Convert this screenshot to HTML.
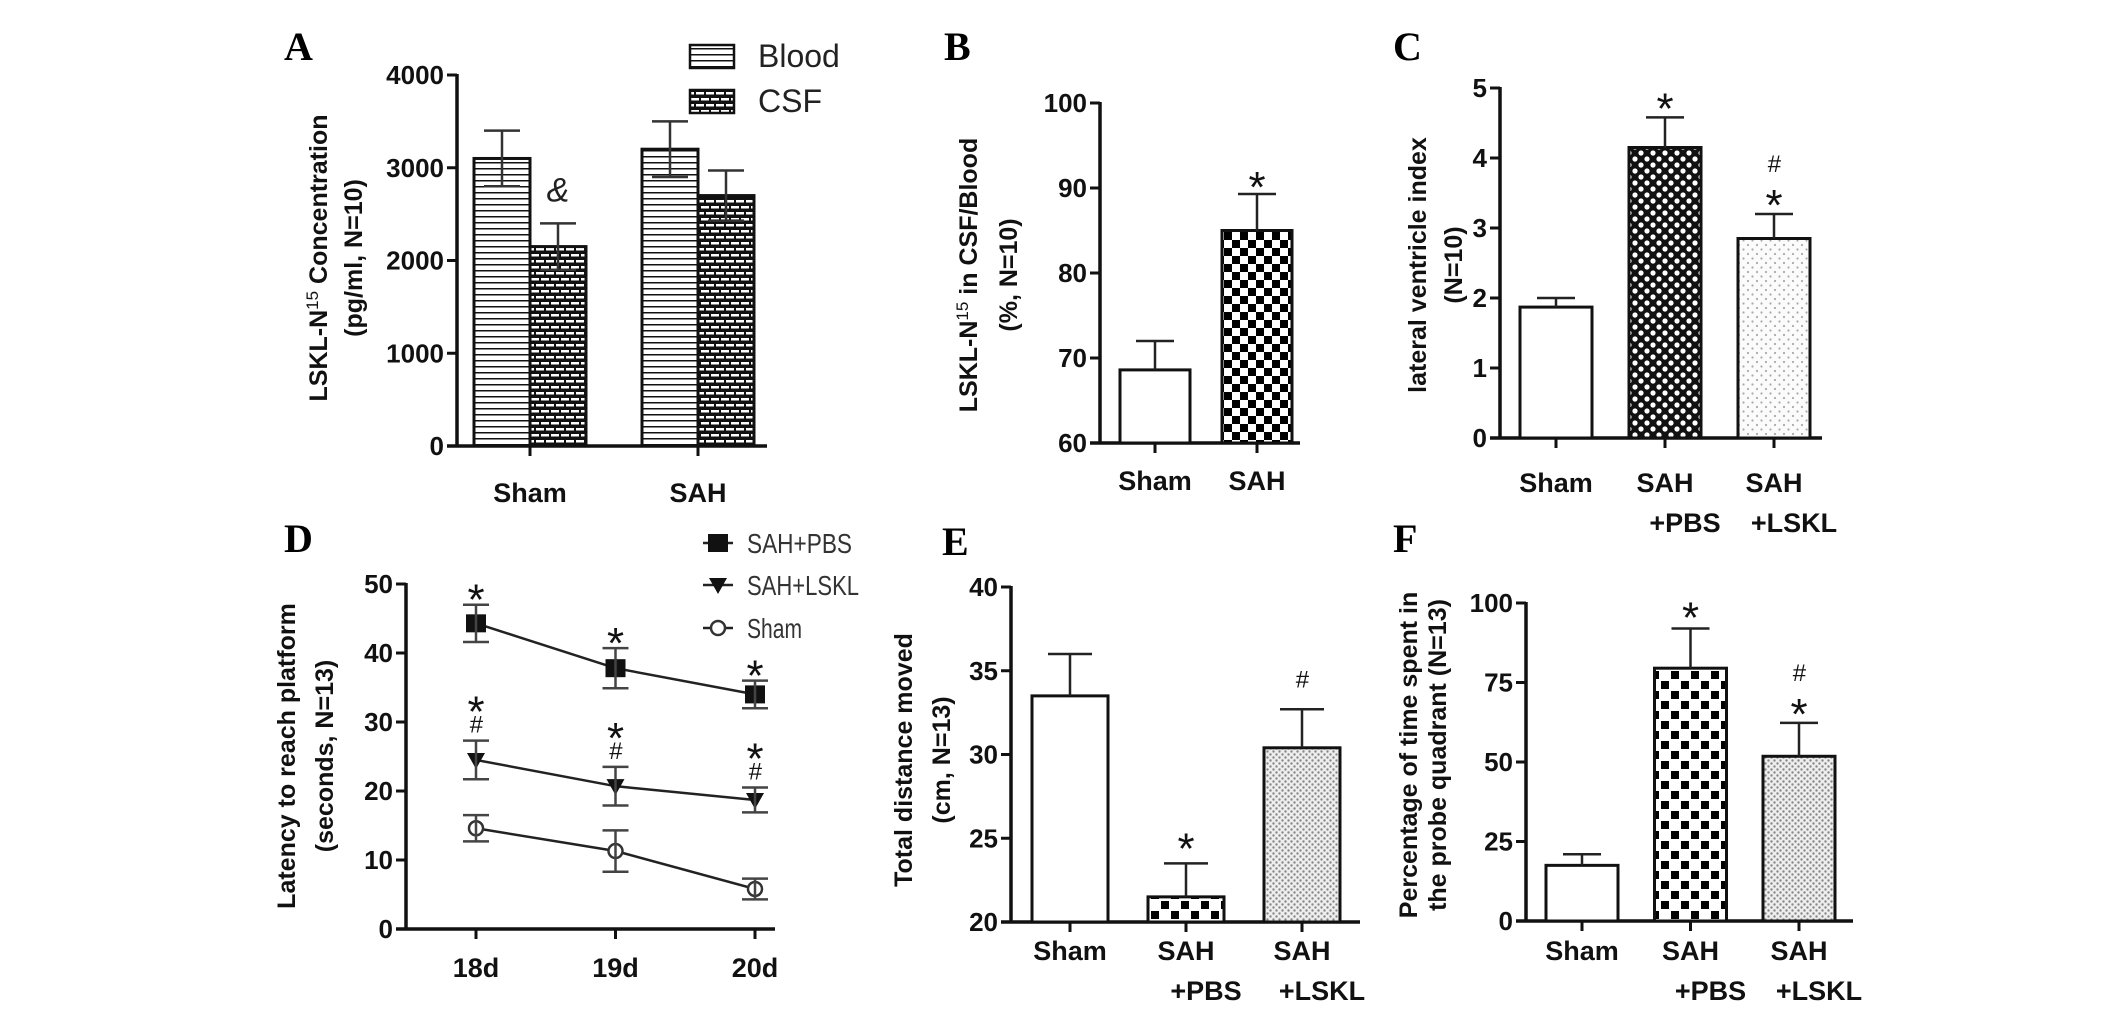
<!DOCTYPE html>
<html><head><meta charset="utf-8"><title>LSKL figure</title>
<style>
html,body{margin:0;padding:0;background:#fff;}
svg{display:block;}
text{font-family:"Liberation Sans",Arial,sans-serif;}
.tick{font-weight:bold;font-size:26px;fill:#111;}
.xl{font-weight:bold;font-size:27px;fill:#111;}
.yl{font-weight:bold;font-size:25px;fill:#111;}
.let{font-family:"Liberation Serif",serif;font-weight:bold;font-size:40px;fill:#000;}
.mark{font-size:44px;fill:#111;}
.hash{font-size:24px;fill:#111;font-style:italic;}
.leg{font-size:28px;fill:#333;}
</style></head>
<body>
<svg id="fig" width="2126" height="1021" viewBox="0 0 2126 1021" xmlns="http://www.w3.org/2000/svg">
<defs>
<pattern id="pHl" width="10" height="6" patternUnits="userSpaceOnUse"><rect width="10" height="6" fill="#fff"/><line x1="0" y1="0.75" x2="10" y2="0.75" stroke="#111" stroke-width="1.5"/></pattern>
<pattern id="pBrick" width="20" height="12" patternUnits="userSpaceOnUse"><rect width="20" height="12" fill="#111"/><rect x="1" y="2" width="8" height="2.5" fill="#fff"/><rect x="11" y="2" width="8" height="2.5" fill="#fff"/><rect x="-4" y="8" width="8" height="2.5" fill="#fff"/><rect x="6" y="8" width="8" height="2.5" fill="#fff"/><rect x="16" y="8" width="8" height="2.5" fill="#fff"/></pattern>
<pattern id="pCheck8" width="16" height="16" patternUnits="userSpaceOnUse"><rect width="16" height="16" fill="#fff"/><rect width="8" height="8" fill="#000"/><rect x="8" y="8" width="8" height="8" fill="#000"/></pattern>
<pattern id="pCheck10" width="20" height="20" patternUnits="userSpaceOnUse"><rect width="20" height="20" fill="#fff"/><rect x="1" y="1" width="8" height="8" fill="#000"/><rect x="11" y="11" width="8" height="8" fill="#000"/></pattern>
<pattern id="pDotBlk" width="12" height="12" patternUnits="userSpaceOnUse"><rect width="12" height="12" fill="#111"/><circle cx="3" cy="3" r="2.6" fill="#fff"/><circle cx="9" cy="9" r="2.6" fill="#fff"/></pattern>
<pattern id="pDotGray" width="6" height="6" patternUnits="userSpaceOnUse"><rect width="6" height="6" fill="#eee"/><circle cx="1.5" cy="1.5" r="1.2" fill="#888"/><circle cx="4.5" cy="4.5" r="1.2" fill="#888"/></pattern>
<pattern id="pDotLight" width="9" height="9" patternUnits="userSpaceOnUse"><rect width="9" height="9" fill="#fbfbfb"/><circle cx="2" cy="2" r="1.1" fill="#aaa"/><circle cx="6.5" cy="6.5" r="1.1" fill="#aaa"/></pattern>
</defs>
</svg>
<script>
// ---- Panel A data ----
const aCats = ['Sham', 'SAH'];
const aBlood = [3100, 3200];
const aBloodErr = [300, 300];
const aCsf = [2150, 2700];
const aCsfErr = [250, 270];
const aTicks = [0, 1000, 2000, 3000, 4000];
// ---- Panel B data ----
const bCats = ['Sham', 'SAH'];
const bVals = [68.6, 85.0];
const bErr = [3.4, 4.3];
const bTicks = [60, 70, 80, 90, 100];
// ---- Panel C data ----
const cCats = ['Sham', 'SAH|+PBS', 'SAH|+LSKL'];
const cVals = [1.87, 4.15, 2.85];
const cErr = [0.13, 0.43, 0.35];
const cTicks = [0, 1, 2, 3, 4, 5];
// ---- Panel D data ----
const dDays = ['18d', '19d', '20d'];
const dPBS = [44.3, 37.8, 34.0];
const dPBSErr = [2.7, 2.9, 2.0];
const dLSKL = [24.5, 20.7, 18.7];
const dLSKLErr = [2.8, 2.8, 1.8];
const dSham = [14.6, 11.3, 5.8];
const dShamErr = [1.9, 3.0, 1.5];
const dTicks = [0, 10, 20, 30, 40, 50];
// ---- Panel E data ----
const eCats = ['Sham', 'SAH|+PBS', 'SAH|+LSKL'];
const eVals = [33.5, 21.5, 30.4];
const eErr = [2.5, 2.0, 2.3];
const eTicks = [20, 25, 30, 35, 40];
// ---- Panel F data ----
const fCats = ['Sham', 'SAH|+PBS', 'SAH|+LSKL'];
const fVals = [17.5, 79.5, 51.8];
const fErr = [3.5, 12.5, 10.5];
const fTicks = [0, 25, 50, 75, 100];

const NS = 'http://www.w3.org/2000/svg';
const svg = document.getElementById('fig');
function mk(tag, attrs, parent) {
  const el = document.createElementNS(NS, tag);
  for (const k in attrs) el.setAttribute(k, attrs[k]);
  (parent || svg).appendChild(el);
  return el;
}
function scale(min, max, y0, y1) { return v => y0 + (v - min) * (y1 - y0) / (max - min); }

function panelLetter(ch, x, y) {
  const t = mk('text', {x: x, y: y, class: 'let'});
  
  
  t.textContent = ch;
}
function yAxis(id, ax, ys, ticks, yTop, yBot) {
  const g = mk('g', {});
  
  
  mk('line', {x1: ax, y1: yTop - 1, x2: ax, y2: yBot, stroke: '#111', 'stroke-width': 3.5}, g);
  ticks.forEach(v => {
    mk('line', {x1: ax - 10, y1: ys(v), x2: ax, y2: ys(v), stroke: '#111', 'stroke-width': 3}, g);
    const t = mk('text', {x: ax - 13, y: ys(v) + 9, 'text-anchor': 'end', class: 'tick'}, g);
    
    
    t.textContent = v;
  });
}
function xAxis(id, ax, axEnd, y, centers) {
  const g = mk('g', {});
  
  
  mk('line', {x1: ax - 10, y1: y, x2: axEnd, y2: y, stroke: '#111', 'stroke-width': 3.5}, g);
  centers.forEach(c => mk('line', {x1: c, y1: y, x2: c, y2: y + 10, stroke: '#111', 'stroke-width': 3}, g));
}
function xLabels(id, cats, centers, y, dx2) {
  cats.forEach((c, i) => {
    const parts = c.split('|');
    const t = mk('text', {x: centers[i], y: y, 'text-anchor': 'middle', class: 'xl'});
    
    
    t.textContent = parts[0];
    if (parts[1]) {
      const t2 = mk('text', {x: centers[i] + dx2, y: y + 40, 'text-anchor': 'middle', class: 'xl'});
      
      
      t2.textContent = parts[1];
    }
  });
}
function yTitle(id, lines, xs, cy, sup) {
  lines.forEach((ln, i) => {
    const t = mk('text', {x: 0, y: 0, 'text-anchor': 'middle', class: 'yl', transform: 'translate(' + xs[i] + ',' + cy + ') rotate(-90)'});
    
    
    if (sup && i === 0) {
      const p = ln.split('^');
      t.appendChild(document.createTextNode(p[0]));
      const s = mk('tspan', {dy: -9, 'font-size': '17', 'font-weight': 'normal'}, t);
      s.textContent = '15';
      const r = mk('tspan', {dy: 9}, t);
      r.textContent = p[1];
    } else t.textContent = ln;
  });
}
function bar(id, x, w, yv, ybase, fill) {
  const r = mk('rect', {x: x, y: yv, width: w, height: ybase - yv, fill: fill, stroke: '#111', 'stroke-width': 3});
  
  
}
function errUp(id, cx, yTopBar, yErr, cap) {
  const g = mk('g', {});
  
  
  mk('line', {x1: cx, y1: yTopBar, x2: cx, y2: yErr, stroke: '#222', 'stroke-width': 2.5}, g);
  mk('line', {x1: cx - cap, y1: yErr, x2: cx + cap, y2: yErr, stroke: '#222', 'stroke-width': 2.5}, g);
}
function errBoth(id, cx, yLo, yHi, cap, col) {
  const g = mk('g', {});
  
  
  mk('line', {x1: cx, y1: yLo, x2: cx, y2: yHi, stroke: col, 'stroke-width': 2.5}, g);
  mk('line', {x1: cx - cap, y1: yHi, x2: cx + cap, y2: yHi, stroke: col, 'stroke-width': 2.5}, g);
  mk('line', {x1: cx - cap, y1: yLo, x2: cx + cap, y2: yLo, stroke: col, 'stroke-width': 2.5}, g);
}
function sig(id, sym, x, y) {
  const t = mk('text', {x: x, y: sym === '*' ? y + 14 : y, 'text-anchor': 'middle', class: sym === '*' ? 'mark' : 'hash'});
  
  
  t.textContent = sym;
}

// ================= Panel A =================
(function () {
  const ax = 457, base = 446;
  const ys = scale(0, 4000, base, 75);
  panelLetter('A', 284, 60);
  yAxis('panel-a', ax, ys, aTicks, 75, base);
  const groupStart = 474, groupStep = 168, bw = 56;
  const centers = aCats.map((c, i) => groupStart + i * groupStep + bw);
  xAxis('panel-a', ax, 767, base, centers);
  aCats.forEach((c, i) => {
    const x0 = groupStart + i * groupStep;
    bar('bar-a-blood-' + c.toLowerCase(), x0, bw, ys(aBlood[i]), base, 'url(#pHl)');
    bar('bar-a-csf-' + c.toLowerCase(), x0 + bw, bw, ys(aCsf[i]), base, 'url(#pBrick)');
    errBoth('errorbar-a-blood-' + c.toLowerCase(), x0 + bw / 2, ys(aBlood[i] - aBloodErr[i]), ys(aBlood[i] + aBloodErr[i]), 18, '#333');
    errBoth('errorbar-a-csf-' + c.toLowerCase(), x0 + bw * 1.5, ys(aCsf[i] - aCsfErr[i]), ys(aCsf[i] + aCsfErr[i]), 18, '#333');
  });
  const amp = mk('text', {x: groupStart + bw * 1.5, y: ys(aCsf[0] + aCsfErr[0]) - 22, 'text-anchor': 'middle', 'font-size': '34', 'font-style': 'italic', fill: '#222'});
  
  
  amp.textContent = '&';
  xLabels('panel-a', aCats, centers, 502, 0);
  yTitle('panel-a', ['LSKL-N^ Concentration', '(pg/ml, N=10)'], [327, 362], 258, true);
  const lg = mk('g', {});
  
  
  const r1 = mk('rect', {x: 690, y: 45, width: 44, height: 23, fill: 'url(#pHl)', stroke: '#111', 'stroke-width': 2.5}, lg);
  
  
  const t1 = mk('text', {x: 758, y: 67, 'font-size': '32', fill: '#222'}, lg);
  
  
  t1.textContent = 'Blood';
  const r2 = mk('rect', {x: 690, y: 90, width: 44, height: 23, fill: 'url(#pBrick)', stroke: '#111', 'stroke-width': 2.5}, lg);
  
  
  const t2 = mk('text', {x: 758, y: 112, 'font-size': '32', fill: '#222'}, lg);
  
  
  t2.textContent = 'CSF';
})();

// ================= Panel B =================
(function () {
  const ax = 1100, base = 443;
  const ys = scale(60, 100, base, 103);
  panelLetter('B', 944, 60);
  yAxis('panel-b', ax, ys, bTicks, 103, base);
  const start = 1120, step = 102, bw = 70;
  const centers = bCats.map((c, i) => start + i * step + bw / 2);
  xAxis('panel-b', ax, 1300, base, centers);
  const fills = ['#fff', 'url(#pCheck8)'];
  bCats.forEach((c, i) => {
    const x0 = start + i * step;
    bar('bar-b-' + c.toLowerCase(), x0, bw, ys(bVals[i]), base, fills[i]);
    errUp('errorbar-b-' + c.toLowerCase(), centers[i], ys(bVals[i]), ys(bVals[i] + bErr[i]), 19);
  });
  sig('significance-b-sah', '*', centers[1], ys(bVals[1] + bErr[1]) - 6);
  xLabels('panel-b', bCats, centers, 490, 0);
  yTitle('panel-b', ['LSKL-N^ in CSF/Blood', '(%, N=10)'], [977, 1017], 275, true);
})();

// ================= Panel C =================
(function () {
  const ax = 1500, base = 438;
  const ys = scale(0, 5, base, 88);
  panelLetter('C', 1393, 60);
  yAxis('panel-c', ax, ys, cTicks, 88, base);
  const start = 1520, step = 109, bw = 72;
  const centers = cCats.map((c, i) => start + i * step + bw / 2);
  xAxis('panel-c', ax, 1822, base, centers);
  const fills = ['#fff', 'url(#pDotBlk)', 'url(#pDotLight)'];
  cCats.forEach((c, i) => {
    const x0 = start + i * step;
    bar('bar-c-' + i, x0, bw, ys(cVals[i]), base, fills[i]);
    errUp('errorbar-c-' + i, centers[i], ys(cVals[i]), ys(cVals[i] + cErr[i]), 19);
  });
  sig('significance-c-pbs', '*', centers[1], ys(cVals[1] + cErr[1]) - 8);
  sig('significance-c-lskl-hash', '#', centers[2], ys(cVals[2] + cErr[2]) - 42);
  sig('significance-c-lskl-star', '*', centers[2], ys(cVals[2] + cErr[2]) - 8);
  xLabels('panel-c', cCats, centers, 492, 20);
  yTitle('panel-c', ['lateral ventricle index', '(N=10)'], [1426, 1462], 265, false);
})();

// ================= Panel D =================
(function () {
  const ax = 406, base = 929;
  const ys = scale(0, 50, base, 584);
  panelLetter('D', 284, 552);
  yAxis('panel-d', ax, ys, dTicks, 584, base);
  const start = 476, step = 139.5;
  const xs = i => start + i * step;
  xAxis('panel-d', ax, 775, base, dDays.map((d, i) => xs(i)));
  dDays.forEach((d, i) => {
    const t = mk('text', {x: xs(i), y: 977, 'text-anchor': 'middle', class: 'xl'});
    
    
    t.textContent = d;
  });
  const series = [
    {name: 'sah-pbs', vals: dPBS, err: dPBSErr, marker: 'square'},
    {name: 'sah-lskl', vals: dLSKL, err: dLSKLErr, marker: 'tri'},
    {name: 'sham', vals: dSham, err: dShamErr, marker: 'circle'}
  ];
  function marker(type, cx, cy, g) {
    if (type === 'square') mk('rect', {x: cx - 10, y: cy - 9, width: 20, height: 18, fill: '#111'}, g);
    else if (type === 'tri') mk('polygon', {points: (cx - 9) + ',' + (cy - 7) + ' ' + (cx + 9) + ',' + (cy - 7) + ' ' + cx + ',' + (cy + 9), fill: '#111'}, g);
    else mk('circle', {cx: cx, cy: cy, r: 7, fill: '#fff', stroke: '#333', 'stroke-width': 2.5}, g);
  }
  series.forEach(s => {
    const g = mk('g', {});
    
    
    const pts = s.vals.map((v, i) => xs(i) + ',' + ys(v)).join(' ');
    mk('polyline', {points: pts, fill: 'none', stroke: '#222', 'stroke-width': 2.5}, g);
    s.vals.forEach((v, i) => {
      errBoth('errorbar-d-' + s.name + '-' + i, xs(i), ys(v - s.err[i]), ys(v + s.err[i]), 13, '#444');
      marker(s.marker, xs(i), ys(v), g);
    });
  });
  dPBS.forEach((v, i) => sig('significance-d-pbs-' + i, '*', xs(i), ys(v + dPBSErr[i]) - 4));
  dLSKL.forEach((v, i) => {
    sig('significance-d-lskl-hash-' + i, '#', xs(i), ys(v + dLSKLErr[i]) - 8);
    sig('significance-d-lskl-star-' + i, '*', xs(i), ys(v + dLSKLErr[i]) - 28);
  });
  const lg = mk('g', {});
  
  
  const labs = ['SAH+PBS', 'SAH+LSKL', 'Sham'];
  const lys = [543, 585, 628];
  labs.forEach((l, i) => {
    mk('line', {x1: 703, y1: lys[i], x2: 733, y2: lys[i], stroke: '#222', 'stroke-width': 2.5}, lg);
    marker(series[i].marker, 718, lys[i], lg);
    const t = mk('text', {x: 747, y: lys[i] + 10, class: 'leg', 'textLength': [105, 112, 55][i], lengthAdjust: 'spacingAndGlyphs'}, lg);
    
    
    t.textContent = l;
  });
  yTitle('panel-d', ['Latency to reach platform', '(seconds, N=13)'], [295, 333], 756, false);
})();

// ================= Panel E =================
(function () {
  const ax = 1011, base = 922;
  const ys = scale(20, 40, base, 587);
  panelLetter('E', 942, 555);
  yAxis('panel-e', ax, ys, eTicks, 587, base);
  const start = 1032, step = 116, bw = 76;
  const centers = eCats.map((c, i) => start + i * step + bw / 2);
  xAxis('panel-e', ax, 1360, base, centers);
  const fills = ['#fff', 'url(#pCheck10)', 'url(#pDotGray)'];
  eCats.forEach((c, i) => {
    const x0 = start + i * step;
    bar('bar-e-' + i, x0, bw, ys(eVals[i]), base, fills[i]);
    errUp('errorbar-e-' + i, centers[i], ys(eVals[i]), ys(eVals[i] + eErr[i]), 22);
  });
  sig('significance-e-pbs', '*', centers[1], ys(eVals[1] + eErr[1]) - 14);
  sig('significance-e-lskl-hash', '#', centers[2], ys(eVals[2] + eErr[2]) - 22);
  xLabels('panel-e', eCats, centers, 960, 20);
  yTitle('panel-e', ['Total distance moved', '(cm, N=13)'], [912, 950], 760, false);
})();

// ================= Panel F =================
(function () {
  const ax = 1526, base = 921;
  const ys = scale(0, 100, base, 603);
  panelLetter('F', 1393, 552);
  yAxis('panel-f', ax, ys, fTicks, 603, base);
  const start = 1546, step = 108.5, bw = 72;
  const centers = fCats.map((c, i) => start + i * step + bw / 2);
  xAxis('panel-f', ax, 1853, base, centers);
  const fills = ['#fff', 'url(#pCheck10)', 'url(#pDotGray)'];
  fCats.forEach((c, i) => {
    const x0 = start + i * step;
    bar('bar-f-' + i, x0, bw, ys(fVals[i]), base, fills[i]);
    errUp('errorbar-f-' + i, centers[i], ys(fVals[i]), ys(fVals[i] + fErr[i]), 19);
  });
  sig('significance-f-pbs', '*', centers[1], ys(fVals[1] + fErr[1]) - 10);
  sig('significance-f-lskl-hash', '#', centers[2], ys(fVals[2] + fErr[2]) - 42);
  sig('significance-f-lskl-star', '*', centers[2], ys(fVals[2] + fErr[2]) - 8);
  xLabels('panel-f', fCats, centers, 960, 20);
  yTitle('panel-f', ['Percentage of time spent in', 'the probe quadrant (N=13)'], [1417, 1446], 755, false);
})();
</script>
</body></html>
